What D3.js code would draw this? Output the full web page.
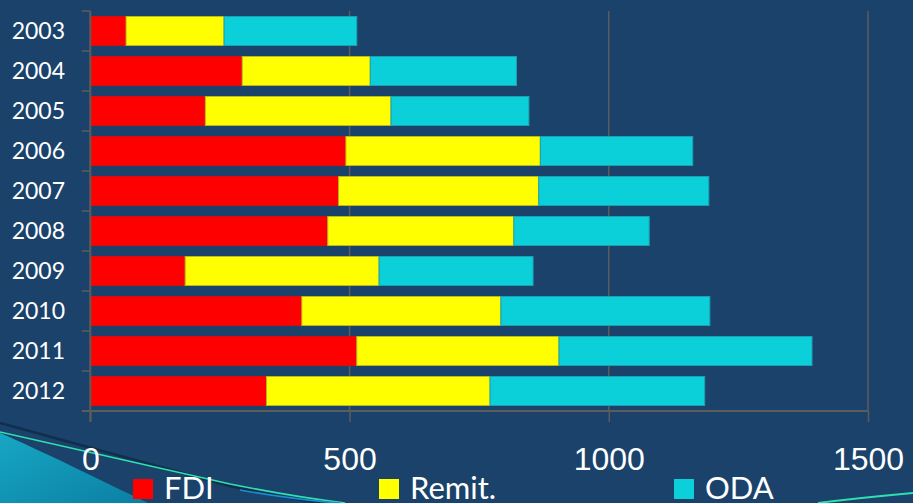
<!DOCTYPE html>
<html lang="en">
<head>
<meta charset="UTF-8">
<title>FDI, Remittances, ODA</title>
<script src="https://d3js.org/d3.v7.min.js"></script>
<style>
  html, body { margin: 0; padding: 0; background: #1a426b; overflow: hidden; }
  svg { display: block; font-family: Lato, "Open Sans", sans-serif; }
</style>
</head>
<body>
<script>

const years = ["2003", "2004", "2005", "2006", "2007", "2008", "2009", "2010", "2011", "2012"];
const fdi   = [69, 293, 222, 493, 479, 458, 183, 408, 514, 340];
const remit = [189, 247, 358, 375, 386, 359, 374, 384, 390, 431];
const oda   = [256, 282, 266, 294, 328, 261, 297, 403, 488, 414];
const seriesNames = ["FDI", "Remit.", "ODA"];
const xTicks = [0, 500, 1000, 1500];

const colors = ["#ff0000", "#ffff00", "#0cd0d9"];
const strokes = ["#d01010", "#b8b820", "#1aa0b0"];

const w = 913, h = 503;

const svg = d3.select("body").append("svg")
    .attr("width", w)
    .attr("height", h);

svg.append("rect").attr("width", w).attr("height", h).attr("fill", "#1a426b");

// decorative swoosh, bottom left / right
const defs = svg.append("defs");
const grad = defs.append("linearGradient").attr("id", "swoosh")
    .attr("x1", 0).attr("y1", 0).attr("x2", 1).attr("y2", 1);
grad.append("stop").attr("offset", "0%").attr("stop-color", "#17a7c4");
grad.append("stop").attr("offset", "100%").attr("stop-color", "#0b7fa3");

svg.append("path")
    .attr("d", "M0,433 C40,450 100,480 148,503 L0,503 Z")
    .attr("fill", "url(#swoosh)");
svg.append("path")
    .attr("d", "M0,423 C60,440 140,462 230,486 C270,495 300,500 320,503")
    .attr("fill", "none").attr("stroke", "#0f2f4d").attr("stroke-width", 2.5);
svg.append("path")
    .attr("d", "M0,432 C70,448 150,466 230,484 C280,494 320,500 345,503")
    .attr("fill", "none").attr("stroke", "#2fe0b0").attr("stroke-width", 1.6);
svg.append("path")
    .attr("d", "M240,490 C280,497 310,501 340,503")
    .attr("fill", "none").attr("stroke", "#1a8fd0").attr("stroke-width", 1.5);
svg.append("path")
    .attr("d", "M818,503 C850,499 880,496 913,493")
    .attr("fill", "none").attr("stroke", "#2fe0b0").attr("stroke-width", 1.8);

// scales
const x = d3.scaleLinear().domain([0, 1500]).range([90.3, 868]);
const y = d3.scaleBand().domain(years).range([11, 411])
    .paddingInner(0.275).paddingOuter(0.1375);

const gridColor = "#5c5c5c";

// vertical gridlines
svg.append("g").selectAll("line")
    .data(xTicks.slice(1))
    .join("line")
    .attr("x1", d => x(d)).attr("x2", d => x(d))
    .attr("y1", 11).attr("y2", 411)
    .attr("stroke", gridColor).attr("stroke-width", 1.5);

// stacked bars
const table = years.map((yr, i) => ({ year: yr, FDI: fdi[i], "Remit.": remit[i], ODA: oda[i] }));
const stacked = d3.stack().keys(seriesNames)(table);

svg.append("g").selectAll("g")
    .data(stacked)
    .join("g")
    .attr("fill", (d, i) => colors[i])
    .attr("stroke", (d, i) => strokes[i])
    .attr("stroke-width", 1)
    .selectAll("rect")
    .data(d => d)
    .join("rect")
    .attr("x", d => x(d[0]))
    .attr("y", d => y(d.data.year))
    .attr("width", d => x(d[1]) - x(d[0]))
    .attr("height", y.bandwidth());

// x axis
const xAxis = d3.axisBottom(x).tickValues(xTicks).tickSize(11).tickFormat(d3.format("d"));
const gx = svg.append("g")
    .attr("transform", "translate(0,411)")
    .call(xAxis);
gx.select(".domain").attr("stroke", gridColor).attr("stroke-width", 2)
    .attr("d", "M82,0H868");
gx.selectAll(".tick line").attr("stroke", gridColor).attr("stroke-width", 1.5);
gx.selectAll(".tick text")
    .attr("fill", "#ffffff")
    .attr("font-size", 32)
    .attr("y", 59)
    .attr("dy", 0);

// y axis: line, boundary ticks, labels
const step = y.step();
const bounds = years.map(d => y(d) - (step - y.bandwidth()) / 2).concat([411]);
const gy = svg.append("g");
gy.append("line")
    .attr("x1", x(0)).attr("x2", x(0)).attr("y1", 11).attr("y2", 422)
    .attr("stroke", gridColor).attr("stroke-width", 2);
gy.selectAll("line.tk")
    .data(bounds)
    .join("line").attr("class", "tk")
    .attr("x1", 82).attr("x2", x(0))
    .attr("y1", d => d).attr("y2", d => d)
    .attr("stroke", gridColor).attr("stroke-width", 1.5);
gy.selectAll("text")
    .data(years)
    .join("text")
    .attr("x", 65)
    .attr("y", d => y(d) + y.bandwidth() / 2)
    .attr("dy", "0.36em")
    .attr("text-anchor", "end")
    .attr("fill", "#ffffff")
    .attr("font-size", 23)
    .text(d => d);

// legend
const legendX = [133, 379, 674];
const legend = svg.append("g").selectAll("g")
    .data(seriesNames)
    .join("g")
    .attr("transform", (d, i) => "translate(" + legendX[i] + ",0)");
legend.append("rect")
    .attr("x", 0).attr("y", 479).attr("width", 20).attr("height", 20)
    .attr("fill", (d, i) => colors[i]);
legend.append("text")
    .attr("x", 31).attr("y", 499)
    .attr("fill", "#ffffff")
    .attr("font-size", 31)
    .text(d => d);

</script>
</body>
</html>
